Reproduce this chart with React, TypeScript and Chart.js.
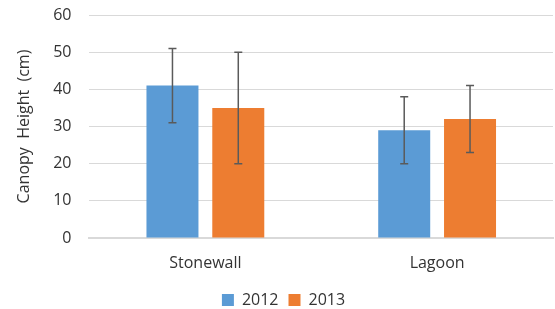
import React, { useEffect, useRef } from "react";
import { Chart, registerables } from "chart.js";

Chart.register(...registerables);

const categories = ["Stonewall", "Lagoon"];
const seriesNames = ["2012", "2013"];
const values2012 = [41, 29];
const values2013 = [35, 32];
const low2012 = [31, 20];
const high2012 = [51, 38];
const low2013 = [20, 23];
const high2013 = [50, 41];
const yTicks = [0, 10, 20, 30, 40, 50, 60];

const errorBarPlugin = {
  id: "errorBars",
  afterDatasetsDraw(chart: any) {
    const ctx = chart.ctx;
    const yScale = chart.scales.y;
    const lows = [low2012, low2013];
    const highs = [high2012, high2013];
    ctx.save();
    ctx.strokeStyle = "#5a5a5a";
    ctx.lineWidth = 1.5;
    chart.data.datasets.forEach((ds: any, di: number) => {
      const meta = chart.getDatasetMeta(di);
      meta.data.forEach((bar: any, i: number) => {
        const x = bar.x;
        const yl = yScale.getPixelForValue(lows[di][i]);
        const yh = yScale.getPixelForValue(highs[di][i]);
        const cap = 4;
        ctx.beginPath();
        ctx.moveTo(x, yl);
        ctx.lineTo(x, yh);
        ctx.moveTo(x - cap, yh);
        ctx.lineTo(x + cap, yh);
        ctx.moveTo(x - cap, yl);
        ctx.lineTo(x + cap, yl);
        ctx.stroke();
      });
    });
    ctx.restore();
  },
};

export default function App() {
  const ref = useRef<HTMLCanvasElement>(null);
  useEffect(() => {
    if (!ref.current) return;
    const font = { family: "'Open Sans', sans-serif", size: 16 };
    const chart = new Chart(ref.current, {
      type: "bar",
      data: {
        labels: categories,
        datasets: [
          {
            label: seriesNames[0],
            data: values2012,
            backgroundColor: "#5b9bd5",
            categoryPercentage: 0.568,
            barPercentage: 0.79,
          },
          {
            label: seriesNames[1],
            data: values2013,
            backgroundColor: "#ed7d31",
            categoryPercentage: 0.568,
            barPercentage: 0.79,
          },
        ],
      },
      options: {
        animation: false,
        responsive: false,
        maintainAspectRatio: false,
        layout: { padding: { top: 0, right: 2, left: 14, bottom: -9 } },
        plugins: {
          legend: {
            position: "bottom",
            labels: {
              boxWidth: 12,
              boxHeight: 12,
              color: "#333333",
              font,
              padding: 10,
            },
          },
          tooltip: { enabled: false },
        },
        scales: {
          x: {
            grid: { display: false },
            border: { color: "#d9d9d9", width: 2 },
            ticks: { color: "#333333", font, padding: 8 },
            afterFit(scale: any) {
              scale.height = 44;
            },
          },
          y: {
            min: 0,
            max: 60,
            afterBuildTicks(scale: any) {
              scale.ticks = yTicks.map((v) => ({ value: v }));
            },
            afterFit(scale: any) {
              scale.paddingTop = 15;
              scale.paddingBottom = 0;
            },
            grid: { color: "#d9d9d9", drawTicks: false },
            border: { display: false },
            ticks: { color: "#333333", font, padding: 18 },
            title: {
              display: true,
              text: "Canopy  Height  (cm)",
              color: "#333333",
              font,
              padding: 1,
            },
          },
        },
      },
      plugins: [errorBarPlugin],
    });
    return () => chart.destroy();
  }, []);
  return (
    <div style={{ position: "fixed", left: 0, top: 0, width: 555, height: 309, background: "#fff" }}>
      <canvas ref={ref} width={555} height={309} />
    </div>
  );
}
